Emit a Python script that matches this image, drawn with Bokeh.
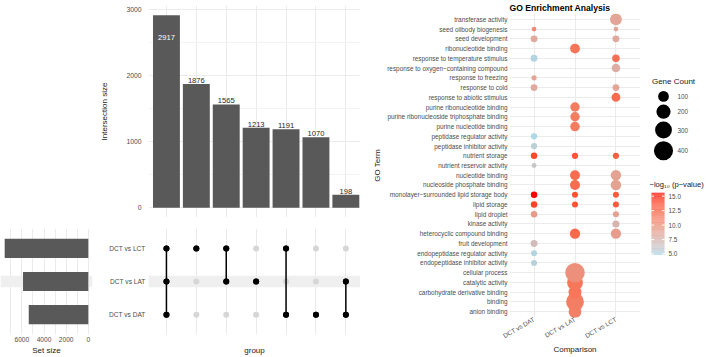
import math
from bokeh.plotting import figure
from bokeh.layouts import row, column
from bokeh.models import Range1d, FixedTicker, ColumnDataSource, BoxAnnotation, Spacer
from bokeh.core.properties import value
from bokeh.embed import file_html
from bokeh.resources import INLINE

FONT = "Liberation Sans"
TICK_C = "#4D4D4D"
TITLE_C = "#1A1A1A"
GRID_C = "#EBEBEB"
MINOR_C = "#F3F3F3"
BAR_C = "#595959"

# ---------------- UpSet data ----------------
set_names = ["DCT vs DAT", "DCT vs LAT", "DCT vs LCT"]          # bottom to top
intersection_sets = [
    ["DCT vs LCT", "DCT vs LAT", "DCT vs DAT"],
    ["DCT vs LCT"],
    ["DCT vs LCT", "DCT vs LAT"],
    ["DCT vs LAT"],
    ["DCT vs LCT", "DCT vs DAT"],
    ["DCT vs DAT"],
    ["DCT vs LAT", "DCT vs DAT"],
]
intersection_sizes = [2917, 1876, 1565, 1213, 1191, 1070, 198]
set_size_ticks = [0, 2000, 4000, 6000]
inter_size_ticks = [0, 1000, 2000, 3000]

# ---------------- GO enrichment data ----------------
go_terms = [  # bottom to top
    "anion binding", "binding", "carbohydrate derivative binding", "catalytic activity",
    "cellular process", "endopeptidase inhibitor activity", "endopeptidase regulator activity",
    "fruit development", "heterocyclic compound binding", "kinase activity", "lipid droplet",
    "lipid storage", "monolayer\u2212surrounded lipid storage body", "nucleoside phosphate binding",
    "nucleotide binding", "nutrient reservoir activity", "nutrient storage",
    "peptidase inhibitor activity", "peptidase regulator activity", "purine nucleotide binding",
    "purine ribonucleoside triphosphate binding", "purine ribonucleotide binding",
    "response to abiotic stimulus", "response to cold", "response to freezing",
    "response to oxygen\u2212containing compound", "response to temperature stimulus",
    "ribonucleotide binding", "seed development", "seed oilbody biogenesis", "transferase activity",
]
comparisons = ["DCT vs DAT", "DCT vs LAT", "DCT vs LCT"]

go_term = [
    "anion binding", "binding", "carbohydrate derivative binding", "catalytic activity",
    "cellular process",
    "endopeptidase inhibitor activity", "endopeptidase regulator activity", "fruit development",
    "heterocyclic compound binding", "heterocyclic compound binding", "kinase activity",
    "lipid droplet", "lipid droplet",
    "lipid storage", "lipid storage", "lipid storage",
    "monolayer\u2212surrounded lipid storage body", "monolayer\u2212surrounded lipid storage body",
    "monolayer\u2212surrounded lipid storage body",
    "nucleoside phosphate binding", "nucleoside phosphate binding",
    "nucleotide binding", "nucleotide binding",
    "nutrient reservoir activity",
    "nutrient storage", "nutrient storage", "nutrient storage",
    "peptidase inhibitor activity", "peptidase regulator activity",
    "purine nucleotide binding", "purine ribonucleoside triphosphate binding",
    "purine ribonucleotide binding",
    "response to abiotic stimulus", "response to cold", "response to cold",
    "response to freezing", "response to oxygen\u2212containing compound",
    "response to temperature stimulus", "response to temperature stimulus",
    "ribonucleotide binding", "seed development", "seed development",
    "seed oilbody biogenesis", "seed oilbody biogenesis", "transferase activity",
]
go_comparison = [
    "DCT vs LAT", "DCT vs LAT", "DCT vs LAT", "DCT vs LAT",
    "DCT vs LAT",
    "DCT vs DAT", "DCT vs DAT", "DCT vs DAT",
    "DCT vs LAT", "DCT vs LCT", "DCT vs LCT",
    "DCT vs DAT", "DCT vs LCT",
    "DCT vs DAT", "DCT vs LAT", "DCT vs LCT",
    "DCT vs DAT", "DCT vs LAT",
    "DCT vs LCT",
    "DCT vs LAT", "DCT vs LCT",
    "DCT vs LAT", "DCT vs LCT",
    "DCT vs DAT",
    "DCT vs DAT", "DCT vs LAT", "DCT vs LCT",
    "DCT vs DAT", "DCT vs DAT",
    "DCT vs LAT", "DCT vs LAT",
    "DCT vs LAT",
    "DCT vs LCT", "DCT vs DAT", "DCT vs LCT",
    "DCT vs DAT", "DCT vs LCT",
    "DCT vs DAT", "DCT vs LCT",
    "DCT vs LAT", "DCT vs DAT", "DCT vs LCT",
    "DCT vs DAT", "DCT vs LCT", "DCT vs LCT",
]
go_count = [
    156, 340, 160, 260,
    420,
    20, 20, 30,
    90, 90, 33,
    25, 20,
    25, 20, 20,
    25, 20,
    20,
    84, 95,
    82, 92,
    9,
    25, 22, 22,
    22, 22,
    75, 70,
    72,
    62, 28, 28,
    12, 55,
    30, 40,
    80, 30, 30,
    8, 8, 128,
]
go_logp = [
    11.0, 11.2, 11.6, 11.6,
    10.0,
    5.3, 5.1, 7.0,
    12.4, 9.2, 7.4,
    9.3, 8.8,
    14.2, 13.6, 13.2,
    15.6, 13.6,
    13.2,
    12.2, 8.8,
    12.2, 8.8,
    6.2,
    14.0, 13.5, 13.0,
    5.5, 4.8,
    11.3, 11.3,
    11.3,
    12.2, 8.3, 8.6,
    8.6, 8.0,
    5.0, 12.0,
    11.8, 8.3, 8.3,
    10.5, 8.6, 8.6,
]
count_breaks = [100, 200, 300, 400]
logp_breaks = [5.0, 7.5, 10.0, 12.5, 15.0]


# ---------------- helpers ----------------
def dot_diameter(n):
    """Gene count -> point diameter in pixels (area-like scale)."""
    return 2.3 + 0.84 * math.sqrt(n)


_WHITE = (0.95047, 1.0, 1.08883)


def _hex_to_lab(h):
    rgb = [int(h[i:i + 2], 16) / 255 for i in (1, 3, 5)]
    lin = [c / 12.92 if c <= 0.04045 else ((c + 0.055) / 1.055) ** 2.4 for c in rgb]
    r, g, b = lin
    X = 0.4124 * r + 0.3576 * g + 0.1805 * b
    Y = 0.2126 * r + 0.7152 * g + 0.0722 * b
    Z = 0.0193 * r + 0.1192 * g + 0.9505 * b
    f = lambda t: t ** (1 / 3) if t > 0.008856 else 7.787 * t + 16 / 116
    fx, fy, fz = f(X / _WHITE[0]), f(Y / _WHITE[1]), f(Z / _WHITE[2])
    return 116 * fy - 16, 500 * (fx - fy), 200 * (fy - fz)


def _lab_to_hex(L, a, b):
    fy = (L + 16) / 116
    fx = fy + a / 500
    fz = fy - b / 200
    finv = lambda t: t ** 3 if t ** 3 > 0.008856 else (t - 16 / 116) / 7.787
    X, Y, Z = finv(fx) * _WHITE[0], finv(fy) * _WHITE[1], finv(fz) * _WHITE[2]
    r = 3.2406 * X - 1.5372 * Y - 0.4986 * Z
    g = -0.9689 * X + 1.8758 * Y + 0.0415 * Z
    bb = 0.0557 * X - 0.2040 * Y + 1.0570 * Z
    gam = lambda c: 12.92 * c if c <= 0.0031308 else 1.055 * c ** (1 / 2.4) - 0.055
    out = [max(0, min(255, round(gam(c) * 255))) for c in (r, g, bb)]
    return "#%02x%02x%02x" % tuple(out)


LOW_LAB = _hex_to_lab("#ADD8E6")
HIGH_LAB = _hex_to_lab("#FF0000")


def gradient(t):
    t = max(0.0, min(1.0, t))
    return _lab_to_hex(*[lo + (hi - lo) * t for lo, hi in zip(LOW_LAB, HIGH_LAB)])


def style_axes(p, tick_size="6.8px"):
    for ax in p.axis:
        ax.axis_line_color = None
        ax.major_tick_line_color = None
        ax.minor_tick_line_color = None
        ax.major_tick_out = 0
        ax.major_tick_in = 0
        ax.minor_tick_out = 0
        ax.minor_tick_in = 0
        ax.major_label_text_font = FONT
        ax.major_label_text_font_size = tick_size
        ax.major_label_text_color = TICK_C
        ax.axis_label_text_font = FONT
        ax.axis_label_text_font_size = "8px"
        ax.axis_label_text_font_style = "normal"
        ax.axis_label_text_color = TITLE_C
    p.outline_line_color = None
    p.background_fill_color = "white"
    p.border_fill_color = "white"


def new_fig(**kw):
    return figure(toolbar_location=None, output_backend="svg", tools="", **kw)


n_inter = len(intersection_sizes)
ymax = max(intersection_sizes)
set_sizes = [sum(s for members, s in zip(intersection_sets, intersection_sizes) if name in members)
             for name in set_names]
smax = max(set_sizes)
inter_x = list(range(1, n_inter + 1))
matrix_xrange = (0.4, n_inter + 0.49)
row_range = (0.4, len(set_names) + 0.6)

# ---------------- intersection size bars ----------------
bar = new_fig(width=270, height=225,
              x_range=Range1d(*matrix_xrange),
              y_range=Range1d(-0.05 * ymax, 1.05 * ymax),
              min_border_left=58, min_border_right=0, min_border_top=5, min_border_bottom=8)
style_axes(bar)
bar.xaxis.visible = False
bar.xgrid.ticker = FixedTicker(ticks=inter_x)
bar.yaxis.ticker = FixedTicker(ticks=inter_size_ticks, minor_ticks=[500, 1500, 2500])
bar.yaxis.axis_label = "Intersection size"
bar.yaxis.major_label_standoff = 7
bar.yaxis.axis_label_standoff = 14
bar.xgrid.grid_line_color = GRID_C
bar.ygrid.grid_line_color = GRID_C
bar.ygrid.minor_grid_line_color = MINOR_C
inside = [s > 0.9 * ymax for s in intersection_sizes]
bsrc = ColumnDataSource(dict(x=inter_x, size=intersection_sizes))
bar.vbar(x="x", top="size", width=0.9, source=bsrc, fill_color=BAR_C, line_color=None)
out_src = ColumnDataSource(dict(
    x=[i + 1 for i in range(n_inter) if not inside[i]],
    y=[s for i, s in enumerate(intersection_sizes) if not inside[i]],
    t=[str(s) for i, s in enumerate(intersection_sizes) if not inside[i]]))
in_src = ColumnDataSource(dict(
    x=[i + 1 for i in range(n_inter) if inside[i]],
    y=[s for i, s in enumerate(intersection_sizes) if inside[i]],
    t=[str(s) for i, s in enumerate(intersection_sizes) if inside[i]]))
bar.text(x="x", y="y", text="t", source=out_src, text_align="center", text_baseline="bottom",
         y_offset=-1, text_font=value(FONT), text_font_size="7.6px", text_color="#262626")
bar.text(x="x", y="y", text="t", source=in_src, text_align="center", text_baseline="top",
         y_offset=20, text_font=value(FONT), text_font_size="7.6px", text_color="white")

# ---------------- set size bars ----------------
setfig = new_fig(width=95, height=132,
                 x_range=Range1d(1.05 * smax, -0.05 * smax), y_range=Range1d(*row_range),
                 min_border_left=0, min_border_right=3, min_border_top=3, min_border_bottom=23)
style_axes(setfig, tick_size="6.6px")
setfig.yaxis.visible = False
setfig.xaxis.ticker = FixedTicker(ticks=set_size_ticks, minor_ticks=[1000, 3000, 5000, 7000])
setfig.xaxis.axis_label = "Set size"
setfig.xaxis.major_label_standoff = 2
setfig.xaxis.axis_label_standoff = 1
setfig.xgrid.grid_line_color = GRID_C
setfig.xgrid.minor_grid_line_color = GRID_C
setfig.ygrid.grid_line_color = None

# ---------------- membership matrix ----------------
mat = new_fig(width=265, height=132,
              x_range=Range1d(*matrix_xrange), y_range=Range1d(*row_range),
              min_border_left=53, min_border_right=0, min_border_top=3, min_border_bottom=23)
style_axes(mat, tick_size="6.6px")
mat.xaxis.ticker = FixedTicker(ticks=[])
mat.xgrid.ticker = FixedTicker(ticks=inter_x)
mat.xaxis.major_label_standoff = 0
mat.xaxis.axis_label = "group"
mat.xaxis.axis_label_standoff = 11
mat.yaxis.ticker = FixedTicker(ticks=list(range(1, len(set_names) + 1)))
mat.yaxis.major_label_overrides = {i + 1: n for i, n in enumerate(set_names)}
mat.yaxis.major_label_standoff = 3
mat.xgrid.grid_line_color = GRID_C
mat.ygrid.grid_line_color = None

for i, _ in enumerate(set_names):
    if i % 2 == 1:
        for fig in (setfig, mat):
            fig.add_layout(BoxAnnotation(bottom=i + 1 - 0.17, top=i + 1 + 0.17,
                                         fill_color="#EFEFEF", fill_alpha=1.0,
                                         line_color=None, level="underlay"))

setfig.hbar(y=list(range(1, len(set_names) + 1)), left=0, right=set_sizes, height=0.58,
            fill_color=BAR_C, line_color=None)

seg_x, seg_y0, seg_y1 = [], [], []
dot_x, dot_y, dot_c = [], [], []
for j, members in enumerate(intersection_sets):
    idx = [set_names.index(m) + 1 for m in members]
    if len(idx) > 1:
        seg_x.append(j + 1)
        seg_y0.append(min(idx))
        seg_y1.append(max(idx))
    for i, name in enumerate(set_names):
        dot_x.append(j + 1)
        dot_y.append(i + 1)
        dot_c.append("black" if name in members else "#D6D6D6")
mat.scatter(x=dot_x, y=dot_y, size=6, color=dot_c, line_color=None)
mat.segment(x0=seg_x, y0=seg_y0, x1=seg_x, y1=seg_y1, line_color="black", line_width=1.5)
mat.scatter(x=[x for x, c in zip(dot_x, dot_c) if c == "black"],
            y=[y for y, c in zip(dot_y, dot_c) if c == "black"],
            size=6, color="black", line_color=None)

# ---------------- GO enrichment dot plot ----------------
PAGE_H = 357
DOT_TOP, DOT_BOTTOM = 13, 37          # border sizes around the dot-plot panel
lo, hi = min(go_logp), max(go_logp)
gx = [comparisons.index(c) + 1 for c in go_comparison]
gy = [go_terms.index(t) + 1 for t in go_term]
gsize = [dot_diameter(n) for n in go_count]
gcol = [gradient((v - lo) / (hi - lo)) for v in go_logp]
order = sorted(range(len(go_term)), key=lambda k: (gx[k], gy[k]))
gsrc = ColumnDataSource(dict(x=[gx[k] for k in order], y=[gy[k] for k in order],
                             s=[gsize[k] for k in order], c=[gcol[k] for k in order]))

dot = new_fig(width=281, height=PAGE_H, title="GO Enrichment Analysis",
              x_range=Range1d(0.4, len(comparisons) + 0.6),
              y_range=Range1d(0.4, len(go_terms) + 0.6),
              min_border_left=149, min_border_right=1,
              min_border_top=DOT_TOP, min_border_bottom=DOT_BOTTOM)
style_axes(dot, tick_size="6.4px")
dot.title.text_font = FONT
dot.title.text_font_size = "8.6px"
dot.title.text_font_style = "bold"
dot.title.text_color = "black"
dot.title.align = "left"
dot.title.offset = 0
dot.title.standoff = 1
dot.xaxis.ticker = FixedTicker(ticks=list(range(1, len(comparisons) + 1)))
dot.xaxis.major_label_overrides = {i + 1: c for i, c in enumerate(comparisons)}
dot.xaxis.major_label_orientation = math.pi / 6
dot.xaxis.major_label_standoff = 1
dot.xaxis.axis_label = "Comparison"
dot.xaxis.axis_label_standoff = 0
dot.yaxis.ticker = FixedTicker(ticks=list(range(1, len(go_terms) + 1)))
dot.yaxis.major_label_overrides = {i + 1: t for i, t in enumerate(go_terms)}
dot.yaxis.major_label_standoff = 2
dot.yaxis.axis_label = "GO Term"
dot.yaxis.axis_label_standoff = 2
dot.xgrid.grid_line_color = GRID_C
dot.ygrid.grid_line_color = GRID_C
dot.scatter(x="x", y="y", size="s", color="c", line_color=None, source=gsrc)

# ---------------- legends: gene-count keys and colour bar ----------------
# The legend panel shares the dot plot's top/bottom borders; its primary y scale is
# in page pixels (downwards) so the keys can be laid out like a ggplot guide.
LEG_W = 68
f_top, f_bottom = DOT_TOP, PAGE_H - DOT_BOTTOM
leg = new_fig(width=LEG_W, height=PAGE_H, x_range=Range1d(0, LEG_W),
              y_range=Range1d(f_bottom, f_top),
              min_border_left=0, min_border_right=0,
              min_border_top=DOT_TOP, min_border_bottom=DOT_BOTTOM)
leg.axis.visible = False
leg.grid.visible = False
leg.outline_line_color = None

key_d = [dot_diameter(b) for b in count_breaks]
key_y = [96.7]
for k in range(1, len(key_d)):
    key_y.append(key_y[-1] + key_d[k - 1] / 2 + key_d[k] / 2 + 3)
leg.text(x=[32], y=[82], text=["Gene Count"], text_align="center", text_baseline="middle",
         text_font=value(FONT), text_font_size="8px", text_color=TITLE_C)
leg.scatter(x=[22] * len(key_d), y=key_y, size=key_d, color="black", line_color=None)
leg.text(x=[36] * len(key_d), y=key_y, text=[str(b) for b in count_breaks], text_align="left",
         text_baseline="middle", text_font=value(FONT), text_font_size="6.4px", text_color=TICK_C)

# colour bar: a secondary value scale placing [lo, hi] on a 63 px tall strip
CB_TOP, CB_BOTTOM, CB_LEFT, CB_RIGHT = 194, 257, 10, 23
px_per_unit = (CB_BOTTOM - CB_TOP) / (hi - lo)
cb_start = lo - (f_bottom - CB_BOTTOM) / px_per_unit
leg.extra_y_ranges = {"cb": Range1d(cb_start, cb_start + (f_bottom - f_top) / px_per_unit)}
leg.text(x=[CB_LEFT - 2], y=[CB_TOP - 8.5], text=["\u2212log\u2081\u2080 (p\u2212value)"],
         text_align="left", text_baseline="middle", text_font=value(FONT),
         text_font_size="7.6px", text_color=TITLE_C)
n_steps = 120
edges = [lo + (hi - lo) * k / n_steps for k in range(n_steps + 1)]
leg.quad(left=CB_LEFT, right=CB_RIGHT, bottom=edges[:-1], top=edges[1:], y_range_name="cb",
         fill_color=[gradient((k + 0.5) / n_steps) for k in range(n_steps)], line_color=None)
nb = len(logp_breaks)
leg.segment(x0=[CB_LEFT] * nb, x1=[CB_LEFT + 2.6] * nb, y0=logp_breaks, y1=logp_breaks,
            y_range_name="cb", line_color="white", line_width=1)
leg.segment(x0=[CB_RIGHT - 2.6] * nb, x1=[CB_RIGHT] * nb, y0=logp_breaks, y1=logp_breaks,
            y_range_name="cb", line_color="white", line_width=1)
leg.text(x=[CB_RIGHT + 4] * nb, y=logp_breaks, text=["%.1f" % b for b in logp_breaks],
         y_range_name="cb", text_align="left", text_baseline="middle", text_font=value(FONT),
         text_font_size="6.4px", text_color=TICK_C)

page = row(column(row(Spacer(width=90, height=225), bar), row(setfig, mat)), dot, leg)
open("out.html", "w").write(file_html(page, INLINE))
